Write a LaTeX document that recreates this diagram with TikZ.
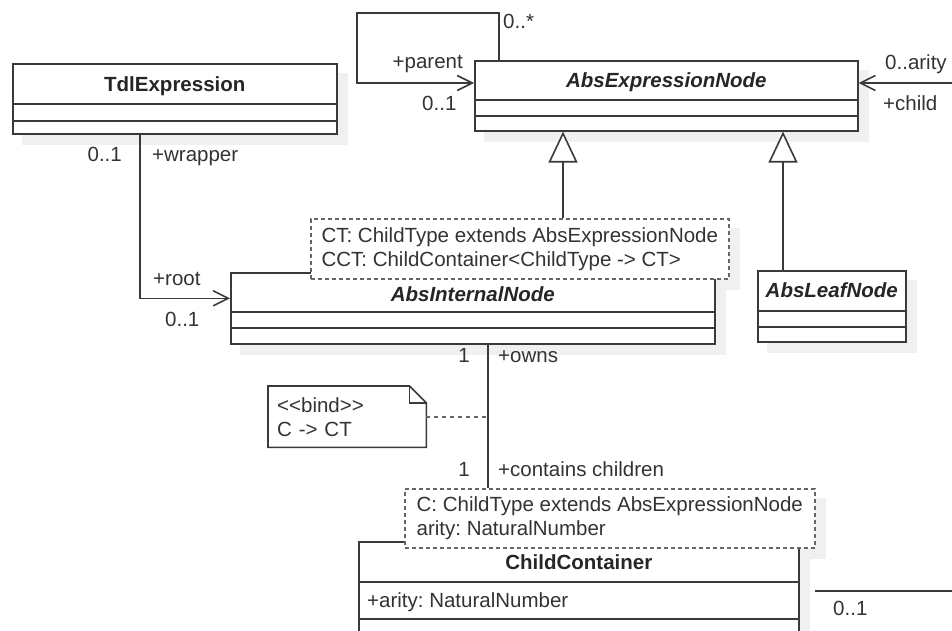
\documentclass[tikz,border=0pt]{standalone}
\usepackage{fontspec}
\newfontfamily\umlfont{Liberation Sans}
\usetikzlibrary{positioning}
\usetikzlibrary{arrows.meta}
\usetikzlibrary{calc}
\definecolor{linegray}{HTML}{3A3A3A}
\definecolor{textgray}{HTML}{333333}
\definecolor{dashgray}{HTML}{666666}
\definecolor{shadowgray}{HTML}{F0F0F0}
\newcommand{\umlsize}{\fontsize{20.5}{24}\selectfont\frenchspacing}
\pgfdeclarelayer{background}
\pgfsetlayers{background,main}

\tikzset{
	umlclass/.style={draw=linegray, fill=white, line width=1.6pt, anchor=north west, inner sep=0pt},
	umlline/.style={draw=linegray, line width=1.6pt},
	classtitle/.style={font=\umlfont\umlsize\bfseries, text=black!85, inner sep=0pt, anchor=mid},
	abstitle/.style={classtitle, font=\umlfont\umlsize\bfseries\itshape},
	tparam/.style={draw=dashgray, dash pattern=on 4pt off 3pt, line width=1.6pt, fill=white,
		anchor=north west, align=left, inner sep=0pt, font=\umlfont\umlsize, text=textgray},
	notebox/.style={anchor=north west, minimum width=158pt, minimum height=61pt, text width=140pt,
		inner xsep=9pt, inner ysep=0pt, align=left, font=\umlfont\umlsize, text=textgray},
	notefold/.style={draw=linegray, line width=1.6pt, fill=white},
	role/.style={font=\umlfont\umlsize, text=textgray, inner sep=0pt},
	assoc/.style={draw=linegray, line width=1.6pt},
	nav/.style={assoc, -{Straight Barb[length=15pt,width=15pt]}},
	gen/.style={assoc, -{Triangle[open, length=31pt, width=29pt, fill=white]}},
	bindline/.style={draw=dashgray, line width=1.6pt, dash pattern=on 4pt off 4pt}
}

\begin{document}
\begin{tikzpicture}[x=1pt, y=-1pt]
	\useasboundingbox (0,0) rectangle (952,631);

	% class boxes
	\node[umlclass, minimum width=324pt, minimum height=70pt] (tdl) at (12,63) {};
	\node[umlclass, minimum width=383pt, minimum height=70pt] (expr) at (474,60) {};
	\node[umlclass, minimum width=484pt, minimum height=71pt] (internal) at (230,272) {};
	\node[umlclass, minimum width=148pt, minimum height=71pt] (leaf) at (757,270) {};
	\node[umlclass, minimum width=440pt, minimum height=110pt] (cc) at (358,541) {};

	\foreach \n/\a/\b in {tdl/41/58, expr/40/56, internal/40/56, leaf/41/57, cc/41/78}
	{
		\draw[umlline] ([yshift=-\a pt]\n.north west) -- ([yshift=-\a pt]\n.north east);
		\draw[umlline] ([yshift=-\b pt]\n.north west) -- ([yshift=-\b pt]\n.north east);
	}

	% template parameters
	\node[tparam, minimum width=418pt, minimum height=60pt] (intparams) at (310,218)
		{CT: ChildType extends AbsExpressionNode\\CCT: ChildContainer<ChildType -> CT>};
	\node[tparam, minimum width=410pt, minimum height=59pt] (ccparams) at (404,488)
		{C: ChildType extends AbsExpressionNode\\arity: NaturalNumber};

	\begin{pgfonlayer}{background}
		\fill[white] (0,0) rectangle (952,631);
		\foreach \n in {tdl, expr, internal, leaf, cc, intparams, ccparams}
		{
			\fill[shadowgray] ([shift={(10,10)}]\n.north west) rectangle ([shift={(10,10)}]\n.south east);
		}
	\end{pgfonlayer}

	% titles
	\node[classtitle] (tdltitle) at ([yshift=-26pt]tdl.north) {TdlExpression};
	\node[abstitle] (exprtitle) at ([yshift=-25pt]expr.north) {AbsExpressionNode};
	\node[abstitle] (internaltitle) at ([yshift=-27pt]internal.north) {AbsInternalNode};
	\node[abstitle] (leaftitle) at ([yshift=-25pt]leaf.north) {AbsLeafNode};
	\node[classtitle] (cctitle) at ([yshift=-26pt]cc.north) {ChildContainer};
	\node[role, anchor=mid west] (arityattr) at (367,605) {+arity: NaturalNumber};

	% bind note
	\node[notebox] (bindnote) at (268,386) {<<bind>>\\C -> CT};
	\begin{pgfonlayer}{background}
		\fill[white] (bindnote.north west) rectangle (bindnote.south east);
	\end{pgfonlayer}
	\draw[notefold, fill=none] (bindnote.north west) -- ([xshift=-17pt]bindnote.north east)
		-- ([yshift=-17pt]bindnote.north east) -- (bindnote.south east) -- (bindnote.south west) -- cycle;
	\draw[notefold, fill=none] ([xshift=-17pt]bindnote.north east) |- ([yshift=-17pt]bindnote.north east);

	% generalizations
	\coordinate (genint) at ([xshift=253pt]intparams.north west);
	\coordinate (genleaf) at ([xshift=26pt]leaf.north west);
	\draw[gen] (genint) -- (genint |- expr.south);
	\draw[gen] (genleaf) -- (genleaf |- expr.south);

	% associations
	\coordinate (loopcorner) at (357,13);
	\draw[nav] ([xshift=25pt]expr.north west) |- (loopcorner) |- ([yshift=-23pt]expr.north west);
	\coordinate (childend) at (952,83);
	\draw[nav] (childend) -- (childend -| expr.east);
	\draw[nav] ([xshift=128pt]tdl.south west) |- ([yshift=10pt]internal.west);
	\coordinate (ownstop) at ([xshift=15pt]internal.south);
	\draw[assoc] (ownstop) -- (ownstop |- ccparams.north);
	\draw[bindline] (bindnote.east) -- (bindnote.east -| ownstop);
	\coordinate (ccstart) at (815,591);
	\coordinate (ccend) at (952,591);
	\draw[assoc] (ccstart) -- (ccend);

	% roles and multiplicities
	\node[role, anchor=mid west] (loopmult) at (503,26) {0..*};
	\node[role, anchor=mid east] (parentrole) at (463,66) {+parent};
	\node[role, anchor=mid west] (parentmult) at (422,108) {0..1};
	\node[role, anchor=mid west] (childmult) at (885,67) {0..arity};
	\node[role, anchor=mid west] (childrole) at (883,108) {+child};
	\node[role, anchor=mid east] (wrapmult) at (122,159) {0..1};
	\node[role, anchor=mid west] (wraprole) at (152,159) {+wrapper};
	\node[role, anchor=mid west] (rootrole) at (153,283) {+root};
	\node[role, anchor=mid west] (rootmult) at (165,324) {0..1};
	\node[role, anchor=mid east] (ownsmult) at (470,360) {1};
	\node[role, anchor=mid west] (ownsrole) at (498,360) {+owns};
	\node[role, anchor=mid east] (containsmult) at (470,474) {1};
	\node[role, anchor=mid west] (containsrole) at (498,474) {+contains children};
	\node[role, anchor=mid west] (ccmult) at (833,613) {0..1};
\end{tikzpicture}
\end{document}
